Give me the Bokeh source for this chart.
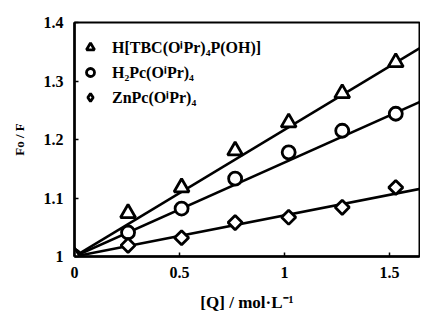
import math
from bokeh.plotting import figure
from bokeh.models import Legend, LegendItem, FixedTicker
from bokeh.embed import file_html
from bokeh.resources import INLINE

# Data
conc = [0, 0.255, 0.51, 0.765, 1.02, 1.275, 1.53]
tbc = [1.0, 1.074, 1.118, 1.181, 1.229, 1.279, 1.332]
h2pc = [1.0, 1.041, 1.082, 1.133, 1.178, 1.215, 1.244]
znpc = [1.0, 1.019, 1.032, 1.058, 1.067, 1.084, 1.118]
names = ["H[TBC(O\u2071Pr)\u2084P(OH)]", "H\u2082Pc(O\u2071Pr)\u2084", "ZnPc(O\u2071Pr)\u2084"]
fit_x = [0, 1.68]
fit_tbc = [1.0, 1.364]
fit_h2pc = [1.0, 1.270]
fit_znpc = [1.0, 1.118]
x_ticks = [0, 0.5, 1, 1.5]
x_tick_labels = ["0", "0.5", "1", "1.5"]
y_ticks = [1, 1.1, 1.2, 1.3, 1.4]
y_tick_labels = ["1", "1.1", "1.2", "1.3", "1.4"]

FONT = "Liberation Serif"

p = figure(width=420, height=316, output_backend="svg", toolbar_location=None,
           x_range=(0, 1.643), y_range=(1.0, 1.4),
           min_border_left=74, min_border_right=1, min_border_top=22, min_border_bottom=60)
p.grid.visible = False
p.outline_line_color = "black"
p.outline_line_width = 2
p.background_fill_color = "white"

for ax in (p.xaxis[0], p.yaxis[0]):
    ax.axis_line_width = 2.5
    ax.axis_line_color = "black"
    ax.major_tick_in = 4
    ax.major_tick_out = 0
    ax.minor_tick_in = 0
    ax.minor_tick_out = 0
    ax.major_tick_line_width = 1.5
    ax.major_label_text_font = FONT
    ax.major_label_text_font_style = "bold"
    ax.major_label_text_font_size = "16px"
    ax.major_label_text_color = "black"
    ax.axis_label_text_font = FONT
    ax.axis_label_text_font_style = "bold"
    ax.axis_label_text_color = "black"

p.xaxis.ticker = FixedTicker(ticks=x_ticks)
p.xaxis.major_label_overrides = {t: l for t, l in zip(x_ticks, x_tick_labels)}
p.yaxis.ticker = FixedTicker(ticks=y_ticks)
p.yaxis.major_label_overrides = {t: l for t, l in zip(y_ticks, y_tick_labels)}
p.xaxis.axis_label = "[Q] / mol\u00b7L\u207b\u00b9"
p.yaxis.axis_label = "Fo / F"
p.xaxis.axis_label_text_font_size = "17px"
p.yaxis.axis_label_text_font_size = "13px"
p.xaxis.major_label_standoff = 10
p.yaxis.major_label_standoff = 11
p.xaxis.axis_label_standoff = 12
p.yaxis.axis_label_standoff = 14

# fit lines
for fy in (fit_tbc, fit_h2pc, fit_znpc):
    p.line(fit_x, fy, line_color="black", line_width=2.5)

r1 = p.scatter(conc, tbc, marker="triangle", size=15, fill_color="white",
               line_color="black", line_width=2.8)
r2 = p.scatter(conc, h2pc, marker="circle", size=13, fill_color="white",
               line_color="black", line_width=2.8)
p.scatter(conc, znpc, marker="square", size=10, angle=math.pi / 4,
          fill_color="white", line_color="black", line_width=2.8)
# legend glyph for the diamond series (legend ignores marker angle); drawn on the shared origin point
r3 = p.scatter(conc[:1], znpc[:1], marker="diamond", size=17, fill_color="white",
               line_color="black", line_width=2.8)

legend = Legend(items=[LegendItem(label=names[0], renderers=[r1]),
                       LegendItem(label=names[1], renderers=[r2]),
                       LegendItem(label=names[2], renderers=[r3])],
                location=(6, 148), margin=0, padding=0, spacing=3,
                glyph_width=20, glyph_height=20, label_height=20,
                label_standoff=12, border_line_color=None,
                background_fill_alpha=0,
                label_text_font=FONT, label_text_font_style="bold",
                label_text_font_size="16px", label_text_color="black")
p.add_layout(legend)

open("out.html", "w").write(file_html(p, INLINE))
